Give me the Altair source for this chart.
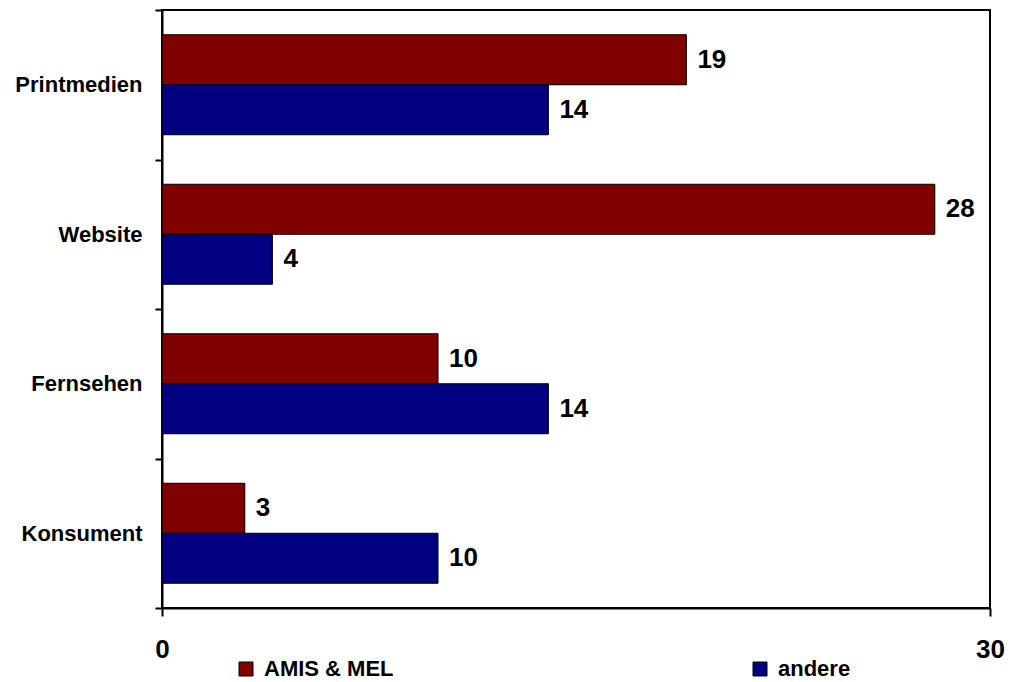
import altair as alt
import pandas as pd

# Anzahl der Nennungen je Informationskanal
categories = ["Printmedien", "Website", "Fernsehen", "Konsument"]
series = ["AMIS & MEL", "andere"]
amis_mel = [19, 28, 10, 3]
andere = [14, 4, 14, 10]
colors = ["#800000", "#000080"]
x_ticks = [0, 30]

rows = []
for cat, a, b in zip(categories, amis_mel, andere):
    rows.append({"Kanal": cat, "Gruppe": series[0], "Anzahl": a})
    rows.append({"Kanal": cat, "Gruppe": series[1], "Anzahl": b})
df = pd.DataFrame(rows)

FONT = "Liberation Sans"

base = alt.Chart(df).encode(
    y=alt.Y(
        "Kanal:N",
        sort=categories,
        scale=alt.Scale(domain=categories, paddingInner=0, paddingOuter=0),
        axis=alt.Axis(
            title=None,
            tickBand="extent",
            tickSize=7,
            tickWidth=2,
            tickColor="black",
            domainColor="black",
            domainWidth=2,
            labelFont=FONT,
            labelFontSize=22,
            labelFontWeight="bold",
            labelColor="black",
            labelPadding=13,
        ),
    ),
    yOffset=alt.YOffset(
        "Gruppe:N",
        sort=series,
        scale=alt.Scale(domain=series, paddingInner=0, paddingOuter=0.495),
    ),
)

bars = base.mark_bar(stroke="black", strokeWidth=1).encode(
    x=alt.X(
        "Anzahl:Q",
        scale=alt.Scale(domain=[0, 30], nice=False),
        axis=alt.Axis(
            title=None,
            values=x_ticks,
            grid=False,
            tickSize=8,
            tickWidth=2,
            tickColor="black",
            domainColor="black",
            domainWidth=2,
            labelFlush=False,
            labelFont=FONT,
            labelFontSize=26,
            labelFontWeight="bold",
            labelColor="black",
            labelPadding=20,
        ),
    ),
    color=alt.Color(
        "Gruppe:N",
        scale=alt.Scale(domain=series, range=colors),
        legend=alt.Legend(
            title=None,
            orient="none",
            legendX=73,
            legendY=648,
            direction="horizontal",
            symbolType="square",
            symbolSize=196,
            symbolStrokeColor="black",
            symbolStrokeWidth=1,
            labelFont=FONT,
            labelFontSize=22,
            labelFontWeight="bold",
            labelColor="black",
            labelOffset=7,
            columnPadding=355,
            padding=0,
        ),
    ),
)

values = base.mark_text(
    align="left",
    baseline="middle",
    dx=11,
    font=FONT,
    fontSize=26,
    fontWeight="bold",
    color="black",
).encode(
    x=alt.X("Anzahl:Q"),
    text=alt.Text("Anzahl:Q"),
)

chart = (
    alt.layer(bars, values)
    .properties(
        width=828,
        height=598,
        autosize=alt.AutoSizeParams(type="none"),
        padding={"left": 162, "top": 10, "right": 23, "bottom": 74},
        background="white",
    )
    .configure_view(stroke="black", strokeWidth=2)
)

chart.save("out.html", embed_options={"renderer": "svg", "actions": False})
